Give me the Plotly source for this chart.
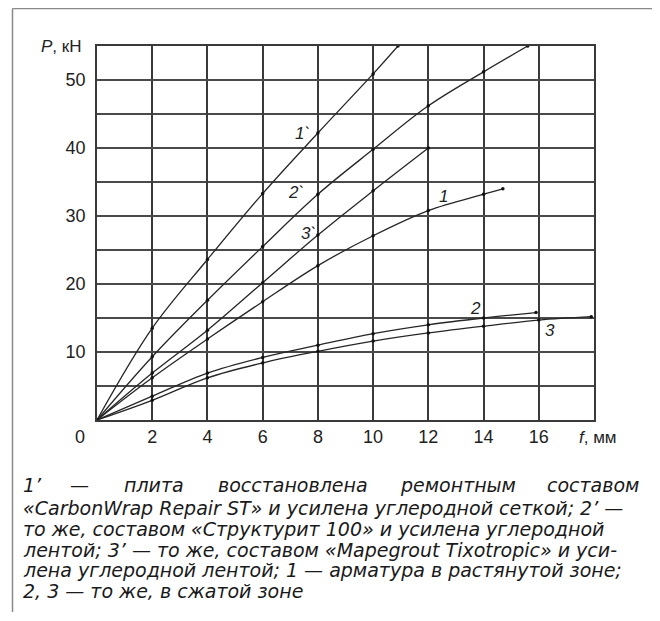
import plotly.graph_objects as go

# ---- data ----
f_1p = [0, 2, 4, 6, 8, 10, 10.9]
p_1p = [0, 13.5, 23.6, 33.3, 42.2, 50.9, 55.0]

f_2p = [0, 2, 4, 6, 8, 10, 12, 14, 15.6]
p_2p = [0, 9.3, 17.6, 25.5, 33.2, 39.8, 46.2, 51.2, 55.0]

f_3p = [0, 2, 4, 6, 8, 10, 12]
p_3p = [0, 6.9, 13.2, 20.2, 27.2, 33.7, 40.0]

f_1 = [0, 2, 4, 6, 8, 10, 12, 14, 14.7]
p_1 = [0, 6.2, 11.9, 17.4, 22.7, 27.1, 30.8, 33.2, 34.0]

f_2 = [0, 2, 4, 6, 8, 10, 12, 14, 15.9]
p_2 = [0, 3.5, 6.9, 9.2, 11.0, 12.7, 14.0, 15.0, 15.8]

f_3 = [0, 2, 4, 6, 8, 10, 12, 14, 16, 17.9]
p_3 = [0, 2.9, 6.2, 8.4, 10.1, 11.6, 12.8, 13.8, 14.7, 15.2]

curve_labels = ["1`", "2`", "3`", "1", "2", "3"]
label_f = [7.45, 7.2, 7.65, 12.55, 13.7, 16.4]
label_p = [42.2, 33.4, 27.5, 32.9, 16.4, 13.1]

x_ticks = [2, 4, 6, 8, 10, 12, 14, 16]
y_ticks = [10, 20, 30, 40, 50]

caption_line1 = ["1’", "—", "плита", "восстановлена", "ремонтным", "составом"]
caption_line1_x = [21, 68, 122, 216, 398, 545]
caption_lines = [
    "«CarbonWrap Repair ST» и усилена углеродной сеткой; 2’ —",
    "то же, составом «Структурит 100» и усилена углеродной",
    "лентой; 3’ — то же, составом «Mapegrout Tixotropic» и уси-",
    "лена углеродной лентой; 1 — арматура в растянутой зоне;",
    "2, 3 — то же, в сжатой зоне",
]

# ---- figure ----
OFF = 8  # page body margin shifts the figure by 8 px
W, H = 660, 621
L, T = 97 - OFF, 46 - OFF
R = W - (594 - OFF)
B = H - (420 - OFF)
pw, ph = W - L - R, H - T - B

fig = go.Figure()
line_col = "#262626"
for fx, py in [(f_1p, p_1p), (f_2p, p_2p), (f_3p, p_3p), (f_1, p_1), (f_2, p_2), (f_3, p_3)]:
    fig.add_trace(go.Scatter(
        x=fx, y=py, mode="lines+markers",
        line=dict(color=line_col, width=1.3, shape="spline", smoothing=1.0),
        marker=dict(size=3.5, color="#111"),
        showlegend=False, hoverinfo="skip",
    ))

font_lbl = dict(family="Liberation Sans, Arial, sans-serif", size=17, color="#222")
font_tick = dict(family="Liberation Sans, Arial, sans-serif", size=18, color="#222")
ann = []
for t, fx, py in zip(curve_labels, label_f, label_p):
    ann.append(dict(x=fx, y=py, xref="x", yref="y", text=f"<i>{t}</i>", showarrow=False,
                    font=font_lbl))

# axis titles / corner zero
ann.append(dict(x=0, y=55, xref="x", yref="y", text="<i>P</i>, кН", showarrow=False,
                xanchor="right", yanchor="middle", xshift=-13, font=font_lbl))
ann.append(dict(x=0, y=0, xref="x", yref="y", text="0", showarrow=False,
                xanchor="center", yanchor="middle", xshift=-17, yshift=-17, font=font_tick))
ann.append(dict(x=18, y=0, xref="x", yref="y", text="<i>f</i>, мм", showarrow=False,
                xanchor="center", yanchor="middle", xshift=4, yshift=-17, font=font_lbl))

# caption
cap_font = dict(family="DejaVu Sans, sans-serif", size=19, color="#1a1a1a")
def px2paper(px, py):
    # screen pixel -> paper coords
    return (px - OFF - L) / pw, (H - B - (py - OFF)) / ph

y_first = 485.5
y_rest = 508
step = 20.8
for word, wx in zip(caption_line1, caption_line1_x):
    xp, yp = px2paper(wx, y_first)
    ann.append(dict(x=xp, y=yp, xref="paper", yref="paper", text=f"<i>{word}</i>",
                    showarrow=False, xanchor="left", yanchor="middle", font=cap_font))
for i, line in enumerate(caption_lines):
    xp, yp = px2paper(21, y_rest + step * i)
    ann.append(dict(x=xp, y=yp, xref="paper", yref="paper", text=f"<i>{line}</i>",
                    showarrow=False, xanchor="left", yanchor="middle", font=cap_font))

# outer frame
fx0, fy0 = px2paper(12.5, 8.5)
fx1, _ = px2paper(656.5, 8.5)
_, fyl = px2paper(0, 612)
_, fyr = px2paper(0, 640)
shapes = [
    dict(type="line", xref="paper", yref="paper", x0=fx0, y0=fy0, x1=fx1, y1=fy0,
         line=dict(color="#8a8a8a", width=1.5)),
    dict(type="line", xref="paper", yref="paper", x0=fx0, y0=fy0, x1=fx0, y1=fyl,
         line=dict(color="#8a8a8a", width=1.5)),
    dict(type="line", xref="paper", yref="paper", x0=fx1, y0=fy0, x1=fx1, y1=fyr,
         line=dict(color="#8a8a8a", width=1.5)),
]

grid_col = "#3a3a3a"
fig.update_layout(
    width=W, height=H,
    margin=dict(l=L, r=R, t=T, b=B, pad=0),
    paper_bgcolor="white", plot_bgcolor="white",
    annotations=ann, shapes=shapes,
    xaxis=dict(range=[0, 18], tickvals=x_ticks, ticktext=[str(v) for v in x_ticks],
               showgrid=True, gridcolor=grid_col, gridwidth=1.6,
               minor=dict(dtick=2, showgrid=True, gridcolor=grid_col, gridwidth=1.6),
               showline=True, linecolor=grid_col, linewidth=1.6, mirror=True,
               ticks="", tickfont=font_tick, ticklabelstandoff=0, zeroline=False,
               fixedrange=True),
    yaxis=dict(range=[0, 55], tickvals=y_ticks, ticktext=[str(v) for v in y_ticks],
               showgrid=True, gridcolor="#4a4a4a", gridwidth=1.6,
               minor=dict(dtick=5, showgrid=True, gridcolor="#4a4a4a", gridwidth=1.6),
               showline=True, linecolor=grid_col, linewidth=1.6, mirror=True,
               ticks="", tickfont=font_tick, ticklabelstandoff=6, zeroline=False,
               fixedrange=True),
)

fig.write_html("out.html")
